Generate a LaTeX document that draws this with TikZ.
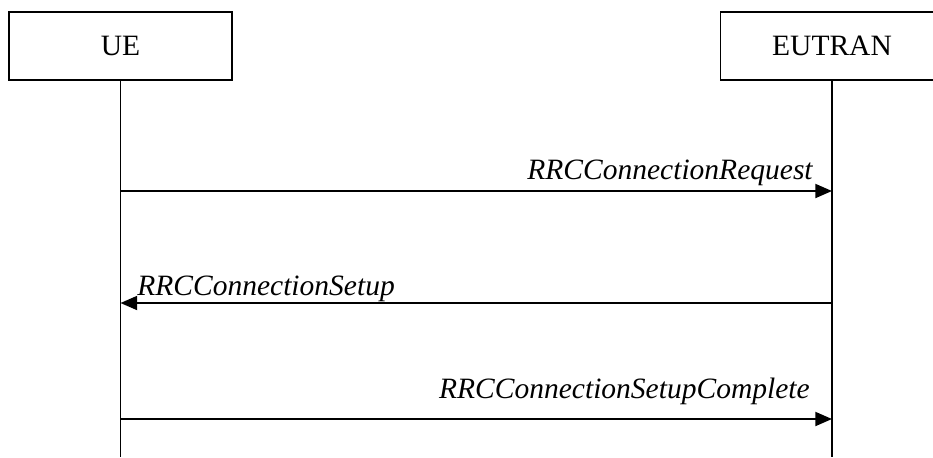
\documentclass[tikz,border=0pt]{standalone}
\usepackage{fontspec}
\setmainfont{Liberation Serif}
\usetikzlibrary{positioning,arrows.meta}

\begin{document}
\begin{tikzpicture}[
    x=0.02cm, y=-0.02cm,
    entitynode/.style={rectangle, draw=black, line width=1pt, minimum width=223*0.02cm, minimum height=68*0.02cm, font=\fontsize{16.8}{20}\selectfont},
    msgtext/.style={inner sep=0pt, font=\fontsize{16.8}{20}\selectfont\itshape},
    msgline/.style={-{Triangle[length=9.5pt,width=8pt]}, line width=1pt},
    lifeline/.style={line width=1pt}
    ]
        \useasboundingbox (0,0) rectangle (933,457);
        %Nodes
        \node[entitynode] (ue) at (120.5,46) {UE};
        \node[entitynode] (eutran) at (832,46) {EUTRAN};
        \coordinate (ueEnd) at (ue.south |- 0,457);
        \coordinate (eutranEnd) at (eutran.south |- 0,457);

        \coordinate (ue1) at (ue.south |- 0,191);
        \coordinate (en1) at (eutran.south |- 0,191);
        \coordinate (ue2) at (ue.south |- 0,303);
        \coordinate (en2) at (eutran.south |- 0,303);
        \coordinate (ue3) at (ue.south |- 0,419);
        \coordinate (en3) at (eutran.south |- 0,419);

        \node[msgtext, anchor=base east] (req) at (813,179) {RRCConnectionRequest};
        \node[msgtext, anchor=base west] (setup) at (137,295) {RRCConnectionSetup};
        \node[msgtext, anchor=base east] (cmpl) at (810,398) {RRCConnectionSetupComplete};

        %Lines
        \draw[lifeline] (ue.south) -- (ueEnd);
        \draw[lifeline] (eutran.south) -- (eutranEnd);
        \draw[msgline] (ue1) -- (en1);
        \draw[msgline] (en2) -- (ue2);
        \draw[msgline] (ue3) -- (en3);
    \end{tikzpicture}
\end{document}
